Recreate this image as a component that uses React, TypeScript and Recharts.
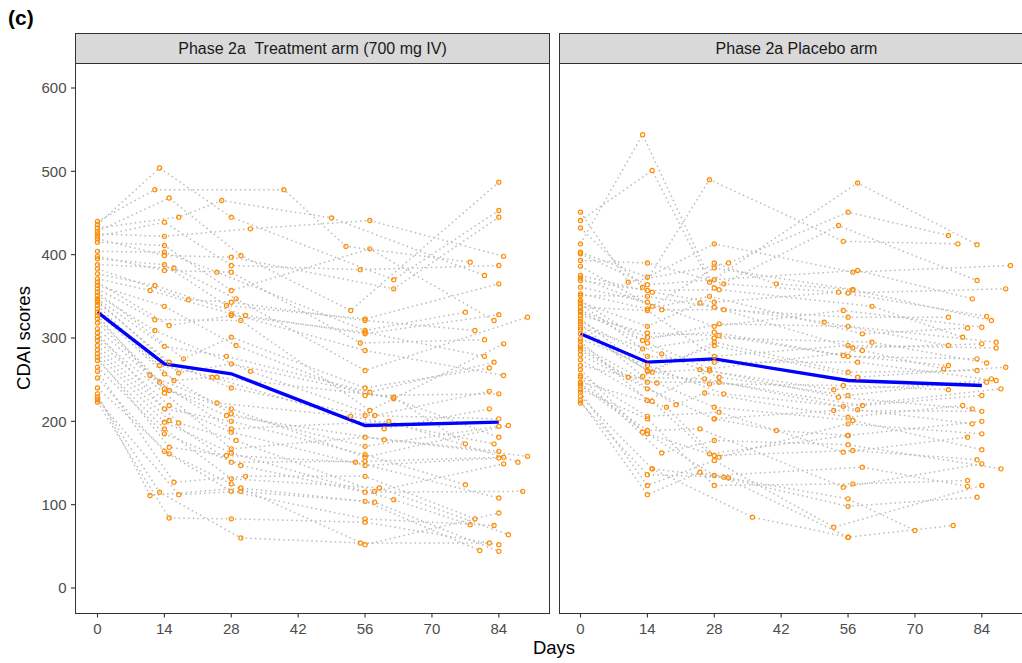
import React from 'react';
import { ComposedChart, Line, Scatter, XAxis, YAxis } from 'recharts';

const dayTicks = [0, 14, 28, 42, 56, 70, 84];
const scoreTicks = [0, 100, 200, 300, 400, 500, 600];
const panelTitles = ['Phase 2a  Treatment arm (700 mg IV)', 'Phase 2a Placebo arm'];

const meanDays = [0, 14, 28, 56, 84];
const trtMeanScores = [331, 269, 257, 195, 199];
const pboMeanScores = [305, 271, 275, 249, 243];

// ---- Treatment arm: baseline scores and each scheduled visit's [day, score]
const trtBaseline = [440, 436, 432, 428, 425, 422, 419, 415, 404, 398, 395, 388, 383, 377, 371, 367, 363, 359, 355, 351, 347, 345, 343, 339, 335, 331, 327, 323, 318, 311, 306, 301, 297, 291, 286, 281, 277, 273, 265, 260, 252, 240, 233, 229, 226, 223];
const trtVisit14 = [[13, 504], [12, 478], [15, 468], [17, 445], [14, 439], [14, 422], [14, 411], [14, 403], [14, 399], [14, 388], [16, 384], [14, 381], [12, 363], [11, 357], [19, 346], [14, 338], [12, 322], [15, 315], [12, 309], [14, 290], [18, 275], [15, 271], [13, 267], [17, 258], [14, 257], [11, 255], [16, 249], [13, 247], [14, 239], [15, 237], [14, 234], [15, 219], [14, 215], [15, 201], [14, 199], [17, 198], [14, 191], [14, 185], [15, 169], [14, 164], [15, 161], [16, 127], [13, 115], [17, 112], [11, 111], [15, 84]];
const trtVisit28 = [[39, 478], [26, 465], [28, 445], [32, 431], [30, 399], [28, 397], [28, 387], [25, 379], [28, 379], [28, 357], [29, 347], [28, 343], [27, 339], [28, 329], [28, 327], [31, 327], [30, 321], [28, 301], [29, 291], [27, 278], [28, 269], [32, 260], [25, 253], [24, 253], [28, 240], [25, 222], [28, 215], [28, 209], [27, 207], [28, 200], [28, 191], [28, 187], [29, 177], [28, 167], [28, 162], [27, 159], [28, 151], [30, 147], [31, 134], [28, 131], [28, 125], [30, 120], [28, 116], [30, 116], [28, 83], [30, 60]];
const trtVisit56 = [[49, 444], [57, 441], [52, 410], [57, 407], [55, 382], [62, 370], [62, 359], [53, 333], [56, 323], [56, 321], [56, 309], [56, 307], [56, 305], [55, 294], [56, 285], [56, 261], [56, 240], [57, 235], [56, 231], [62, 229], [62, 227], [57, 213], [56, 207], [58, 207], [53, 206], [61, 200], [60, 191], [56, 181], [60, 178], [56, 170], [56, 160], [56, 157], [56, 152], [54, 151], [56, 147], [56, 134], [59, 120], [58, 116], [56, 115], [62, 106], [56, 104], [58, 103], [56, 83], [56, 79], [55, 54], [56, 52]];
const trtVisit84 = [[84, 487], [84, 453], [84, 445], [85, 398], [78, 391], [84, 387], [81, 375], [84, 365], [77, 331], [84, 328], [90, 325], [83, 321], [79, 309], [81, 298], [85, 293], [81, 278], [83, 271], [82, 264], [85, 255], [82, 236], [84, 233], [82, 215], [84, 203], [86, 195], [84, 194], [84, 181], [83, 173], [77, 173], [84, 164], [90, 158], [85, 157], [84, 156], [88, 151], [85, 149], [77, 124], [89, 116], [84, 108], [84, 90], [79, 83], [78, 76], [83, 75], [86, 64], [82, 54], [84, 52], [80, 45], [84, 44]];

// ---- Placebo arm
const pboBaseline = [451, 441, 432, 413, 403, 401, 393, 386, 375, 372, 369, 361, 353, 351, 345, 343, 341, 337, 333, 331, 327, 323, 320, 317, 313, 310, 305, 299, 296, 291, 288, 285, 280, 274, 267, 262, 255, 253, 247, 245, 243, 238, 235, 230, 225, 222];
const pboVisit14 = [[13, 544], [15, 501], [14, 390], [14, 373], [10, 367], [14, 364], [13, 361], [14, 357], [15, 355], [14, 350], [14, 343], [15, 338], [14, 335], [17, 334], [14, 333], [14, 314], [14, 306], [14, 301], [13, 297], [14, 294], [13, 287], [17, 281], [14, 278], [14, 267], [14, 261], [14, 260], [15, 259], [13, 254], [10, 253], [14, 247], [16, 246], [14, 239], [14, 225], [15, 224], [20, 220], [18, 217], [14, 206], [14, 203], [14, 189], [13, 187], [14, 185], [17, 162], [15, 143], [14, 136], [14, 123], [14, 112]];
const pboVisit28 = [[27, 490], [28, 413], [31, 390], [28, 384], [28, 370], [27, 367], [30, 365], [28, 360], [29, 358], [27, 350], [28, 343], [25, 342], [28, 337], [30, 334], [29, 317], [28, 314], [28, 307], [29, 303], [28, 300], [28, 295], [28, 291], [28, 278], [28, 271], [27, 263], [25, 262], [27, 261], [29, 253], [26, 251], [29, 247], [27, 245], [26, 234], [30, 233], [28, 217], [29, 211], [28, 203], [25, 191], [28, 177], [27, 161], [28, 159], [29, 157], [28, 153], [25, 139], [28, 135], [30, 133], [31, 132], [28, 123]];
const pboVisit56 = [[58, 486], [56, 451], [54, 435], [55, 416], [58, 381], [57, 379], [57, 358], [54, 355], [56, 354], [61, 338], [55, 333], [56, 325], [51, 319], [56, 314], [59, 305], [61, 295], [56, 291], [57, 288], [59, 285], [55, 279], [56, 278], [58, 271], [56, 259], [58, 253], [55, 243], [53, 238], [56, 231], [54, 229], [59, 219], [55, 218], [58, 214], [53, 213], [56, 205], [57, 201], [56, 197], [56, 183], [56, 172], [57, 165], [55, 163], [59, 145], [57, 125], [55, 121], [56, 107], [56, 98], [53, 73], [56, 61]];
const pboVisit84 = [[77, 423], [79, 413], [83, 412], [90, 387], [83, 369], [89, 359], [82, 347], [85, 326], [77, 325], [86, 321], [84, 313], [81, 312], [80, 301], [87, 295], [84, 293], [77, 291], [87, 288], [83, 275], [85, 270], [77, 267], [89, 265], [76, 263], [83, 261], [86, 251], [87, 249], [85, 247], [88, 239], [77, 238], [84, 231], [80, 219], [82, 215], [84, 212], [84, 200], [82, 197], [84, 185], [81, 181], [84, 166], [83, 154], [84, 149], [88, 143], [81, 129], [84, 123], [81, 122], [83, 109], [78, 75], [70, 69]];
const pboExtraVisits = [
  [[28, 390], [41, 365], [57, 358]],
  [[28, 203], [41, 189], [56, 183]],
  [[15, 143], [36, 85], [56, 61]],
];

// which entry (1-based rank in each visit list) each baseline subject links to
const linkA = [2, 1, 4, 3, 6, 5, 9, 7, 8, 12, 10, 11, 15, 13, 14, 18, 16, 17, 21, 19, 20, 24, 22, 23, 27, 25, 26, 30, 28, 29, 33, 31, 32, 36, 34, 35, 39, 37, 38, 42, 40, 41, 45, 43, 44, 46];
const linkB = [1, 3, 2, 5, 4, 7, 6, 10, 8, 9, 13, 11, 12, 16, 14, 15, 19, 17, 18, 22, 20, 21, 25, 23, 24, 28, 26, 27, 31, 29, 30, 34, 32, 33, 37, 35, 36, 40, 38, 39, 43, 41, 42, 46, 44, 45];
const linkC = [3, 6, 1, 8, 2, 5, 7, 4, 11, 14, 9, 16, 10, 13, 15, 12, 19, 22, 17, 24, 18, 21, 23, 20, 27, 30, 25, 32, 26, 29, 31, 28, 35, 38, 33, 40, 34, 37, 39, 36, 43, 46, 41, 45, 42, 44];
const linkD = [5, 2, 7, 1, 4, 6, 3, 12, 9, 14, 8, 11, 13, 10, 19, 16, 21, 15, 18, 20, 17, 26, 23, 28, 22, 25, 27, 24, 33, 30, 35, 29, 32, 34, 31, 40, 37, 42, 36, 39, 41, 38, 45, 43, 46, 44];

type Pt = { day: number; score: number };

function buildSubjects(base: number[], visits: number[][][], links: number[][]): Pt[][] {
  return base.map((b, i) => [
    { day: 0, score: b },
    ...visits.map((v, k) => {
      const p = v[links[k][i] - 1];
      return { day: p[0], score: p[1] };
    }),
  ]);
}

const toPts = (rows: number[][]): Pt[] => rows.map((r) => ({ day: r[0], score: r[1] }));

const trtSubjects = buildSubjects(trtBaseline, [trtVisit14, trtVisit28, trtVisit56, trtVisit84], [linkA, linkB, linkC, linkD]);
const pboSubjects = [
  ...buildSubjects(pboBaseline, [pboVisit14, pboVisit28, pboVisit56, pboVisit84], [linkD, linkC, linkA, linkB]),
  ...pboExtraVisits.map(toPts),
];
const trtMean = meanDays.map((d, i) => ({ day: d, score: trtMeanScores[i] }));
const pboMean = meanDays.map((d, i) => ({ day: d, score: pboMeanScores[i] }));

const FONT = '"Liberation Sans", Arial, Helvetica, sans-serif';
const AXIS_DARK = '#333333';

const OpenCircle = (p: any) => {
  if (p.cx == null || p.cy == null) return null;
  return <circle cx={p.cx} cy={p.cy} r={2.1} fill="none" stroke="#FF8C00" strokeWidth={1.15} />;
};

function Panel(props: {
  left: number;
  width: number;
  margin: { top: number; right: number; bottom: number; left: number };
  subjects: Pt[][];
  mean: Pt[];
  showY: boolean;
}) {
  const { left, width, margin, subjects, mean, showY } = props;
  const points = subjects.flat();
  return (
    <div style={{ position: 'absolute', left, top: 58 }}>
      <ComposedChart width={width} height={600} margin={margin}>
        <XAxis
          type="number"
          dataKey="day"
          domain={[-4.5, 94.5]}
          ticks={dayTicks}
          allowDataOverflow
          interval={0}
          height={45}
          axisLine={false}
          tickSize={4.5}
          tickMargin={6}
          tick={{ fill: '#4D4D4D', fontSize: 15 }}
          tickLine={{ stroke: AXIS_DARK, strokeWidth: 1.1 }}
        />
        <YAxis
          type="number"
          dataKey="score"
          domain={[-30, 630]}
          ticks={scoreTicks}
          allowDataOverflow
          interval={0}
          width={76}
          hide={!showY}
          axisLine={false}
          tickSize={5}
          tickMargin={4.5}
          tick={{ fill: '#4D4D4D', fontSize: 15 }}
          tickLine={{ stroke: AXIS_DARK, strokeWidth: 1.1 }}
        />
        {subjects.map((s, i) => (
          <Line
            key={'s' + i}
            data={s}
            dataKey="score"
            type="linear"
            stroke="#BBBBBB"
            strokeWidth={1.5}
            strokeDasharray="1.5 3.2"
            dot={false}
            activeDot={false}
            isAnimationActive={false}
          />
        ))}
        <Scatter data={points} dataKey="score" shape={OpenCircle} isAnimationActive={false} />
        <Line
          data={mean}
          dataKey="score"
          type="linear"
          stroke="#0000FF"
          strokeWidth={3.3}
          dot={false}
          activeDot={false}
          isAnimationActive={false}
        />
      </ComposedChart>
    </div>
  );
}

const boxStyle = (left: number): React.CSSProperties => ({
  position: 'absolute',
  left,
  top: 63,
  width: 475,
  height: 551,
  boxSizing: 'border-box',
  border: `1px solid ${AXIS_DARK}`,
  pointerEvents: 'none',
});

const stripStyle = (left: number): React.CSSProperties => ({
  position: 'absolute',
  left,
  top: 33,
  width: 475,
  height: 31,
  boxSizing: 'border-box',
  border: `1px solid ${AXIS_DARK}`,
  background: '#D9D9D9',
  color: '#1A1A1A',
  fontSize: 16,
  lineHeight: '29px',
  textAlign: 'center',
  whiteSpace: 'pre',
});

export default function App() {
  return (
    <div
      style={{
        position: 'fixed',
        left: 0,
        top: 0,
        width: 1022,
        height: 663,
        overflow: 'hidden',
        background: '#FFFFFF',
        fontFamily: FONT,
      }}
    >
      <div style={{ position: 'absolute', left: 8, top: 6, fontSize: 21, fontWeight: 'bold', color: '#000' }}>(c)</div>

      <Panel
        left={0}
        width={560}
        margin={{ top: 5, right: 11, bottom: 0, left: 0 }}
        subjects={trtSubjects}
        mean={trtMean}
        showY
      />
      <Panel
        left={553}
        width={486}
        margin={{ top: 5, right: 7, bottom: 0, left: 6 }}
        subjects={pboSubjects}
        mean={pboMean}
        showY={false}
      />

      <div style={boxStyle(75)} />
      <div style={boxStyle(559)} />
      <div style={stripStyle(75)}>{panelTitles[0]}</div>
      <div style={stripStyle(559)}>{panelTitles[1]}</div>

      <div
        style={{
          position: 'absolute',
          left: 454,
          width: 200,
          top: 637,
          lineHeight: '22px',
          textAlign: 'center',
          fontSize: 18.5,
          color: '#000',
        }}
      >
        Days
      </div>
      <div
        style={{
          position: 'absolute',
          left: 24,
          top: 338,
          transform: 'translate(-50%, -50%) rotate(-90deg)',
          whiteSpace: 'nowrap',
          fontSize: 18.5,
          color: '#000',
        }}
      >
        CDAI scores
      </div>
    </div>
  );
}
